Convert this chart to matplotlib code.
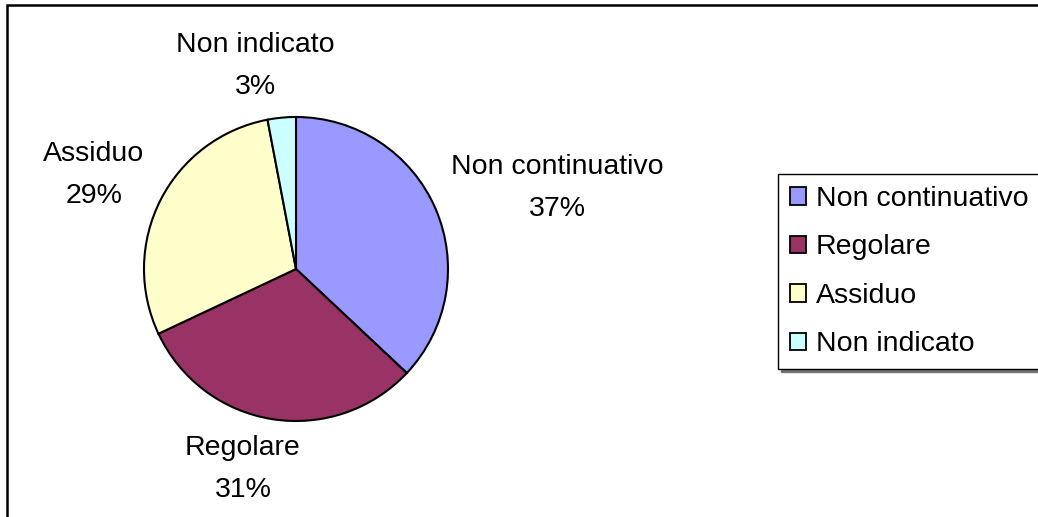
import matplotlib
matplotlib.use("Agg")
import matplotlib.pyplot as plt
from matplotlib.patches import Rectangle

plt.rcParams['font.family'] = ['Liberation Sans', 'DejaVu Sans']

categories = ["Non continuativo", "Regolare", "Assiduo", "Non indicato"]
values = [37, 31, 29, 3]
colors = ["#9999FF", "#993366", "#FFFFCC", "#CCFFFF"]

# label centres, in units of pie radius
label_pos = [(1.717, 0.533), (-0.349, -1.316), (-1.329, 0.618), (-0.27, 1.336)]

W, H = 1038, 517
fig = plt.figure(figsize=(W / 100, H / 100), dpi=100)

# pie centre at (296, 269) px, radius 152 px; axes spans +-2 radii
cx, cy, r = 296, H - 269, 152
ax = fig.add_axes([(cx - 2 * r) / W, (cy - 2 * r) / H, 4 * r / W, 4 * r / H])
wedges, _ = ax.pie(values, colors=colors, startangle=90, counterclock=False,
                   radius=1, wedgeprops=dict(edgecolor="black", linewidth=1.5))
ax.set_xlim(-2, 2)
ax.set_ylim(-2, 2)
ax.set_aspect("equal")
ax.axis("off")

total = sum(values)
for name, v, (x, y) in zip(categories, values, label_pos):
    ax.text(x, y, f"{name}\n{round(100 * v / total)}%", ha="center", va="center",
            fontsize=20.5, linespacing=1.78, multialignment="center")

leg = fig.legend(wedges, categories, loc="upper left",
                 bbox_to_anchor=(778 / W, 1 - 174 / H), bbox_transform=fig.transFigure,
                 borderaxespad=0, borderpad=0.42, handlelength=0.56, handleheight=0.56,
                 handletextpad=0.35, labelspacing=0.79, fontsize=20.5,
                 fancybox=False, edgecolor="black", framealpha=1,
                 shadow={"color": "0.45", "alpha": 1})
leg.get_frame().set_linewidth(1.0)
for h in leg.legend_handles:
    h.set_edgecolor("black")
    h.set_linewidth(1.3)

# outer chart border (only top and left edges fall inside the image)
fig.patches.append(Rectangle((7 / W, -0.05), 1.1, 1 - 5 / H + 0.05,
                             transform=fig.transFigure, fill=False,
                             edgecolor="black", linewidth=1.8))

fig.savefig("out.png", dpi=100)
